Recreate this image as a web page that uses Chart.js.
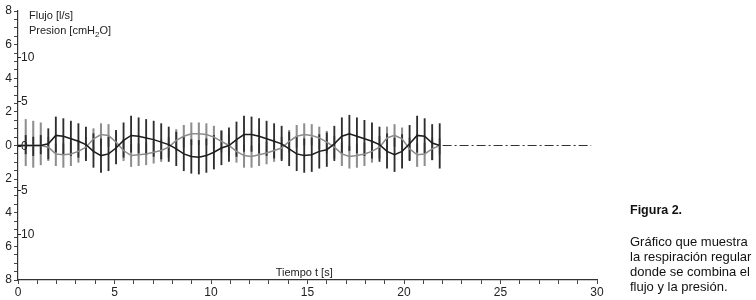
<!DOCTYPE html>
<html>
<head>
<meta charset="utf-8">
<script src="https://cdn.jsdelivr.net/npm/chart.js@4.4.1/dist/chart.umd.min.js"></script>
<style>
  html, body { margin: 0; padding: 0; background: #fff; }
  #wrap { position: relative; width: 756px; height: 300px; }
  #caption { position: absolute; left: 630px; top: 203px; font-family: "Liberation Sans", Arial, sans-serif; font-size: 13px; color: #111; line-height: 15px; }
  #caption b { display: block; margin-bottom: 16px; font-size: 12.5px; }
</style>
</head>
<body>
<div id="wrap">
  <canvas id="chart" width="756" height="300"></canvas>
  <div id="caption"><b>Figura 2.</b>Gráfico que muestra<br>la respiración regular<br>donde se combina el<br>flujo y la presión.</div>
</div>
<script>
// time of each oscillation stroke [s]
const times = [0, 0.40, 0.79, 1.18, 1.57, 1.96, 2.35, 2.74, 3.13, 3.52, 3.91, 4.30, 4.69, 5.08, 5.47, 5.86, 6.25, 6.64, 7.03, 7.42, 7.81, 8.20, 8.59, 8.98, 9.37, 9.76, 10.15, 10.54, 10.93, 11.32, 11.71, 12.10, 12.49, 12.88, 13.27, 13.66, 14.05, 14.44, 14.83, 15.22, 15.61, 16.00, 16.39, 16.78, 17.17, 17.56, 17.95, 18.34, 18.73, 19.12, 19.51, 19.90, 20.29, 20.68, 21.07, 21.46, 21.85]

// mean flow [l/s] and mean pressure (drawn on flow scale)
const flowCurve = [0, 0, 0, 0, 0.1, 0.6, 0.55, 0.4, 0.25, 0.05, -0.35, -0.6, -0.5, -0.15, 0.3, 0.6, 0.55, 0.45, 0.35, 0.2, 0.05, -0.2, -0.5, -0.65, -0.7, -0.6, -0.4, -0.15, 0, 0.35, 0.65, 0.65, 0.55, 0.4, 0.25, 0.1, -0.2, -0.5, -0.6, -0.55, -0.35, -0.25, 0.1, 0.55, 0.7, 0.55, 0.4, 0.25, 0.05, -0.35, -0.55, -0.35, 0.1, 0.6, 0.55, 0.15, 0]
const presCurve = [0, 0, 0, 0, -0.1, -0.5, -0.55, -0.5, -0.35, -0.1, 0.4, 0.65, 0.6, 0.2, -0.3, -0.6, -0.55, -0.5, -0.4, -0.3, -0.1, 0.3, 0.55, 0.7, 0.7, 0.65, 0.5, 0.25, 0, -0.35, -0.6, -0.65, -0.55, -0.45, -0.3, -0.15, 0.25, 0.55, 0.65, 0.6, 0.45, 0.2, -0.1, -0.5, -0.65, -0.6, -0.5, -0.35, -0.1, 0.45, 0.6, 0.4, -0.2, -0.55, -0.5, -0.2, 0]

// oscillation strokes (top / bottom)
const flowTop = [null, 0.6, 0.5, 0.6, 1.0, 1.7, 1.6, 1.45, 1.3, 1.1, 0.7, 0.4, 0.5, 0.9, 1.35, 1.75, 1.65, 1.55, 1.45, 1.3, 1.1, 0.8, 0.5, 0.35, 0.3, 0.4, 0.6, 0.85, 1.05, 1.4, 1.75, 1.7, 1.6, 1.45, 1.3, 1.15, 0.8, 0.5, 0.4, 0.45, 0.65, 0.75, 1.15, 1.65, 1.8, 1.65, 1.5, 1.35, 1.1, 0.7, 0.45, 0.65, 1.2, 1.75, 1.6, 1.25, 1.3]
const flowBottom = [null, -0.5, -0.6, -0.5, -0.8, -0.4, -0.5, -0.6, -0.7, -0.9, -1.3, -1.6, -1.5, -1.1, -0.7, -0.4, -0.45, -0.55, -0.65, -0.8, -0.95, -1.2, -1.5, -1.65, -1.7, -1.6, -1.4, -1.15, -0.95, -0.65, -0.35, -0.35, -0.45, -0.6, -0.75, -0.9, -1.2, -1.5, -1.6, -1.55, -1.35, -1.25, -0.9, -0.45, -0.3, -0.45, -0.6, -0.75, -0.95, -1.35, -1.55, -1.35, -0.9, -0.4, -0.45, -0.85, -1.35]
const presTop = [null, 1.55, 1.45, 1.35, 0.5, 0.1, 0.1, 0.2, 0.3, 0.5, 1.0, 1.3, 1.25, 0.8, 0.35, 0.05, 0.1, 0.15, 0.25, 0.35, 0.5, 0.95, 1.2, 1.35, 1.35, 1.3, 1.15, 0.9, 0.65, 0.3, 0.05, 0, 0.1, 0.2, 0.35, 0.5, 0.9, 1.2, 1.3, 1.25, 1.1, 0.85, 0.55, 0.15, 0, 0.05, 0.15, 0.3, 0.55, 1.1, 1.25, 1.05, 0.45, 0.1, 0.15, 0.45, 0.4]
const presBottom = [null, -1.2, -1.3, -1.15, -0.9, -1.2, -1.3, -1.2, -1.0, -0.8, -0.3, 0, -0.05, -0.4, -0.9, -1.25, -1.2, -1.15, -1.05, -0.95, -0.7, -0.3, -0.1, 0.05, 0.05, 0, -0.15, -0.4, -0.6, -1.0, -1.3, -1.3, -1.2, -1.1, -0.95, -0.8, -0.4, -0.1, 0, 0, -0.2, -0.45, -0.75, -1.2, -1.35, -1.3, -1.2, -1.0, -0.75, -0.2, -0.05, -0.25, -0.85, -1.25, -1.2, -0.85, -0.5]

// zero line after the recording
const restTimes = [22, 29.7]
const restValues = [0, 0]

const presTicks = [10, 5, 0, -5, -10]

const font = { family: '"Liberation Sans", Arial, sans-serif', size: 12 }
const ink = '#222'

function points(xs, ys) {
  return xs.map((x, i) => ({ x: x, y: ys[i] }))
}
function strokes(xs, lo, hi) {
  const out = []
  xs.forEach((x, i) => {
    if (lo[i] !== null) out.push({ x: x, y: [lo[i], hi[i]] })
  })
  return out
}

// extra labels: pressure scale, axis titles
const labelsPlugin = {
  id: 'labels',
  afterDraw(chart) {
    const { ctx, chartArea, scales } = chart
    const left = chartArea.left
    ctx.save()
    ctx.fillStyle = ink
    ctx.strokeStyle = ink
    ctx.lineWidth = 1
    ctx.font = '12px "Liberation Sans", Arial, sans-serif'
    ctx.textBaseline = 'middle'
    presTicks.forEach(v => {
      const y = Math.round(scales.y2.getPixelForValue(v)) + 0.5
      ctx.beginPath()
      ctx.moveTo(left, y)
      ctx.lineTo(left + 3, y)
      ctx.stroke()
      ctx.fillText(String(Math.abs(v)), left + 3, y)
    })
    ctx.font = '11px "Liberation Sans", Arial, sans-serif'
    ctx.textBaseline = 'alphabetic'
    ctx.fillText('Flujo [l/s]', left + 11, chartArea.top + 8)
    const py = chartArea.top + 23
    let x = left + 11
    ctx.fillText('Presion [cmH', x, py)
    x += ctx.measureText('Presion [cmH').width
    ctx.font = '8px "Liberation Sans", Arial, sans-serif'
    ctx.fillText('2', x, py + 3)
    x += ctx.measureText('2').width
    ctx.font = '11px "Liberation Sans", Arial, sans-serif'
    ctx.fillText('O]', x, py)
    ctx.fillText('Tiempo t [s]', scales.x.getPixelForValue(13.35), chartArea.bottom - 4)
    ctx.restore()
  }
}

new Chart(document.getElementById('chart').getContext('2d'), {
  type: 'bar',
  data: {
    datasets: [
      { type: 'line', data: points(times, flowCurve), borderColor: '#1c1c1c', borderWidth: 1.5, pointRadius: 0, tension: 0, order: 0 },
      { type: 'line', data: points(times, presCurve), borderColor: '#8c8c8c', borderWidth: 1.5, pointRadius: 0, tension: 0, order: 1 },
      { type: 'bar', data: strokes(times, flowBottom, flowTop), backgroundColor: '#2e2e2e', barThickness: 1.2, grouped: false, borderWidth: 0, order: 2 },
      { type: 'bar', data: strokes(times, presBottom, presTop), backgroundColor: '#8e8e8e', barThickness: 1.4, grouped: false, borderWidth: 0, order: 3 },
      { type: 'line', data: points(restTimes, restValues), borderColor: '#333', borderWidth: 1.2, borderDash: [9, 3, 2, 3], pointRadius: 0, order: 4 }
    ]
  },
  options: {
    responsive: false,
    animation: false,
    layout: { padding: { top: 11, right: 159, left: 0, bottom: 0 } },
    plugins: { legend: { display: false }, tooltip: { enabled: false } },
    scales: {
      x: {
        type: 'linear', min: 0, max: 30, offset: false,
        ticks: { stepSize: 1, autoSkip: false, maxRotation: 0, padding: 1, color: ink, font: font,
          callback: v => (v % 5 === 0 ? v : '') },
        grid: { drawOnChartArea: false, offset: false, tickLength: 4, color: '#444' },
        border: { color: '#333', width: 1.2 },
        afterFit: s => { s.height = 20 }
      },
      y: {
        min: -8, max: 8,
        ticks: { stepSize: 0.5, autoSkip: false, padding: 2, color: ink, font: font,
          callback: v => (v % 2 === 0 ? Math.abs(v) : '') },
        grid: { drawOnChartArea: false, tickLength: 4, color: '#444' },
        border: { color: '#333', width: 1.2 },
        afterFit: s => { s.width = 18 }
      },
      y2: { display: false, min: -15.2, max: 15.2 }
    }
  },
  plugins: [labelsPlugin]
})
</script>
</body>
</html>
